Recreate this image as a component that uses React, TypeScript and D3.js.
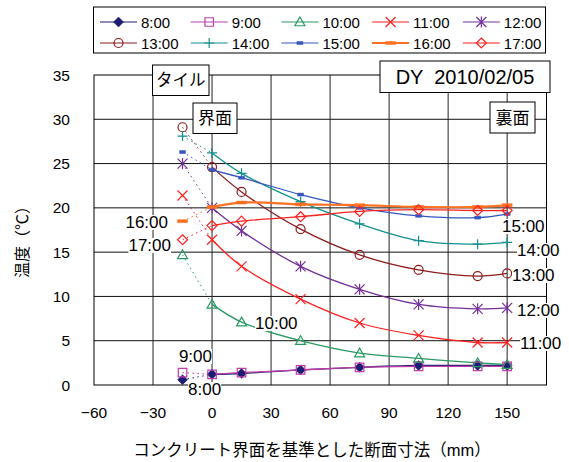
import { useEffect, useRef } from 'react';
import * as d3 from 'd3';

const W = 569;
const H = 462;

// positions from the concrete interface (mm), -15 is the tile
const positions = [-15, 0, 15, 45, 75, 105, 135, 150];

const times = ['8:00', '9:00', '10:00', '11:00', '12:00', '13:00', '14:00', '15:00', '16:00', '17:00'];

const t0800 = [0.6, 1.2, 1.3, 1.7, 2.0, 2.2, 2.2, 2.2];
const t0900 = [1.4, 1.2, 1.4, 1.7, 2.0, 2.1, 2.1, 2.1];
const t1000 = [14.7, 9.1, 7.1, 5.0, 3.6, 3.0, 2.5, 2.3];
const t1100 = [21.4, 16.4, 13.4, 9.7, 7.0, 5.6, 4.8, 4.8];
const t1200 = [25.0, 20.0, 17.4, 13.4, 10.8, 9.1, 8.6, 8.7];
const t1300 = [29.1, 24.6, 21.8, 17.6, 14.7, 13.0, 12.3, 12.6];
const t1400 = [28.1, 26.2, 23.9, 20.7, 18.2, 16.3, 15.9, 16.1];
const t1500 = [26.3, 24.3, 23.4, 21.5, 20.0, 19.1, 18.9, 19.3];
const t1600 = [18.5, 20.1, 20.6, 20.4, 20.3, 20.1, 20.1, 20.3];
const t1700 = [16.4, 18.0, 18.5, 19.0, 19.6, 19.8, 19.7, 19.7];

const values = [t0800, t0900, t1000, t1100, t1200, t1300, t1400, t1500, t1600, t1700];

const colors = ['#1c1c72', '#c03ca8', '#2a9a62', '#ff2020', '#74309a', '#8c1c1c', '#12908e', '#3556c0', '#ff7020', '#ff2020'];
const markers = ['diamondFill', 'square', 'triangle', 'times', 'asterisk', 'circle', 'plus', 'dashShort', 'dashLong', 'diamond'];

const xTicks = [-60, -30, 0, 30, 60, 90, 120, 150];
const yTicks = [0, 5, 10, 15, 20, 25, 30, 35];

// series end labels [text, x, y, anchor]
const seriesLabels: [string, number, number, string][] = [
  ['16:00', 168, 222, 'end'],
  ['17:00', 171, 245, 'end'],
  ['10:00', 255, 323, 'start'],
  ['9:00', 212, 356, 'end'],
  ['8:00', 188, 389, 'start'],
  ['15:00', 502, 226, 'start'],
  ['14:00', 517, 250, 'start'],
  ['13:00', 512, 275, 'start'],
  ['12:00', 517, 310, 'start'],
  ['11:00', 520, 343, 'start'],
];

const FONT = '"Liberation Sans", "Noto Sans CJK JP", sans-serif';

function markerPath(kind: string, r: number) {
  const p = d3.path();
  switch (kind) {
    case 'diamondFill':
    case 'diamond':
      p.moveTo(0, -r); p.lineTo(r, 0); p.lineTo(0, r); p.lineTo(-r, 0); p.closePath();
      break;
    case 'square':
      p.rect(-r * 0.85, -r * 0.85, r * 1.7, r * 1.7);
      break;
    case 'triangle':
      p.moveTo(0, -r); p.lineTo(r, r * 0.75); p.lineTo(-r, r * 0.75); p.closePath();
      break;
    case 'times':
      p.moveTo(-r, -r); p.lineTo(r, r); p.moveTo(r, -r); p.lineTo(-r, r);
      break;
    case 'asterisk':
      p.moveTo(-r, -r); p.lineTo(r, r); p.moveTo(r, -r); p.lineTo(-r, r);
      p.moveTo(0, -r * 1.1); p.lineTo(0, r * 1.1);
      break;
    case 'circle':
      p.moveTo(r * 0.9, 0); p.arc(0, 0, r * 0.9, 0, Math.PI * 2);
      break;
    case 'plus':
      p.moveTo(-r, 0); p.lineTo(r, 0); p.moveTo(0, -r); p.lineTo(0, r);
      break;
    case 'dashShort':
      p.rect(-3, -1.5, 6, 3);
      break;
    case 'dashLong':
      p.rect(-5, -1.5, 10, 3);
      break;
  }
  return p.toString();
}

function drawMarker(g: any, kind: string, color: string, x: number, y: number) {
  const filled = kind === 'diamondFill' || kind === 'dashShort' || kind === 'dashLong';
  g.append('path')
    .attr('d', markerPath(kind, 5))
    .attr('transform', `translate(${x},${y})`)
    .attr('fill', filled ? color : 'none')
    .attr('stroke', color)
    .attr('stroke-width', filled ? 0.5 : 1.2);
}

const App = () => {
  const ref = useRef<SVGSVGElement>(null);

  useEffect(() => {
    const svg = d3.select(ref.current);
    svg.selectAll('*').remove();

    const x = d3.scaleLinear().domain([-60, 170]).range([94, 546.5]);
    const y = d3.scaleLinear().domain([0, 35]).range([385, 75]);

    svg.append('rect').attr('width', W).attr('height', H).attr('fill', '#fff');

    // grid
    const grid = svg.append('g');
    grid.selectAll('line.h')
      .data(yTicks.slice(1, -1))
      .join('line')
      .attr('x1', x(-60)).attr('x2', x(170))
      .attr('y1', (d) => y(d)).attr('y2', (d) => y(d))
      .attr('stroke', '#111').attr('stroke-width', 1);
    grid.selectAll('line.v')
      .data(xTicks.slice(1))
      .join('line')
      .attr('y1', y(0)).attr('y2', y(35))
      .attr('x1', (d) => x(d)).attr('x2', (d) => x(d))
      .attr('stroke', '#222').attr('stroke-width', 1);

    svg.append('rect')
      .attr('x', x(-60)).attr('y', y(35))
      .attr('width', x(170) - x(-60)).attr('height', y(0) - y(35))
      .attr('fill', 'none').attr('stroke', '#000').attr('stroke-width', 1);

    // tick labels
    svg.append('g').selectAll('text')
      .data(yTicks)
      .join('text')
      .attr('x', 70).attr('y', (d) => y(d) + 5.5)
      .attr('text-anchor', 'end')
      .attr('font-family', FONT).attr('font-size', 15.5)
      .text((d) => d);
    svg.append('g').selectAll('text')
      .data(xTicks)
      .join('text')
      .attr('x', (d) => x(d)).attr('y', 418)
      .attr('text-anchor', 'middle')
      .attr('font-family', FONT).attr('font-size', 15.5)
      .text((d) => (d < 0 ? '\u2212' + Math.abs(d) : d));

    // axis titles
    svg.append('text')
      .attr('x', 312).attr('y', 456)
      .attr('text-anchor', 'middle')
      .attr('font-family', FONT).attr('font-size', 16.5)
      .text('コンクリート界面を基準とした断面寸法（mm）');
    svg.append('text')
      .attr('transform', 'translate(28,238) rotate(-90)')
      .attr('text-anchor', 'middle')
      .attr('font-family', FONT).attr('font-size', 16)
      .text('温度（℃）');

    // series
    const lineGen = d3.line<number>()
      .x((_, i) => x(positions[i + 1]))
      .y((d) => y(d))
      .curve(d3.curveCatmullRom.alpha(0.5));

    const seriesG = svg.append('g');
    values.forEach((vals, si) => {
      const c = colors[si];
      seriesG.append('line')
        .attr('x1', x(positions[0])).attr('y1', y(vals[0]))
        .attr('x2', x(positions[1])).attr('y2', y(vals[1]))
        .attr('stroke', c).attr('stroke-width', 1)
        .attr('stroke-dasharray', '1.5,3.5');
      seriesG.append('path')
        .attr('d', lineGen(vals.slice(1)))
        .attr('fill', 'none')
        .attr('stroke', c)
        .attr('stroke-width', si === 8 ? 2.2 : 1.3);
    });
    values.forEach((vals, si) => {
      const mg = seriesG.append('g');
      vals.forEach((v, i) => drawMarker(mg, markers[si], colors[si], x(positions[i]), y(v)));
    });

    // series labels with white background
    seriesLabels.forEach(([t, lx, ly, anchor]) => {
      const g = svg.append('g');
      const txt = g.append('text')
        .attr('x', lx).attr('y', ly + 6)
        .attr('text-anchor', anchor)
        .attr('font-family', FONT).attr('font-size', 17)
        .text(t);
      const bb = (txt.node() as SVGTextElement).getBBox();
      g.insert('rect', 'text')
        .attr('x', bb.x).attr('y', bb.y + 2)
        .attr('width', bb.width).attr('height', bb.height - 4)
        .attr('fill', '#fff');
    });

    // boxed annotations
    const boxes: [string, number, number, number, number, number][] = [
      ['タイル', 152.5, 65, 56.5, 30.5, 16.5],
      ['界面', 193, 103, 44, 30.5, 17],
      ['裏面', 490, 102, 45, 31, 17],
      ['DY  2010/02/05', 380, 61, 170, 31.5, 20],
    ];
    boxes.forEach(([t, bx, by, bw, bh, fs]) => {
      svg.append('rect')
        .attr('x', bx).attr('y', by).attr('width', bw).attr('height', bh)
        .attr('fill', '#fff').attr('stroke', '#000').attr('stroke-width', 1);
      svg.append('text')
        .attr('x', bx + bw / 2).attr('y', by + bh / 2 + fs * 0.36)
        .attr('text-anchor', 'middle')
        .attr('font-family', FONT).attr('font-size', fs)
        .style('white-space', 'pre')
        .text(t);
    });

    // legend
    const lg = svg.append('g');
    lg.append('rect')
      .attr('x', 93.5).attr('y', 7).attr('width', 452).attr('height', 46)
      .attr('fill', '#fff').attr('stroke', '#000').attr('stroke-width', 1);
    times.forEach((t, i) => {
      const col = i % 5;
      const row = Math.floor(i / 5);
      const lx = 100 + col * 90.7;
      const ly = 22 + row * 21;
      lg.append('line')
        .attr('x1', lx).attr('x2', lx + 37).attr('y1', ly).attr('y2', ly)
        .attr('stroke', colors[i]).attr('stroke-width', i === 8 ? 2 : 1.2);
      drawMarker(lg, markers[i], colors[i], lx + 18.5, ly);
      lg.append('text')
        .attr('x', lx + 41).attr('y', ly + 5.5)
        .attr('font-family', FONT).attr('font-size', 15)
        .text(t);
    });
  }, []);

  return (
    <svg
      ref={ref}
      width={W}
      height={H}
      viewBox={`0 0 ${W} ${H}`}
      style={{ position: 'absolute', left: 0, top: 0 }}
    />
  );
};

export default App;
